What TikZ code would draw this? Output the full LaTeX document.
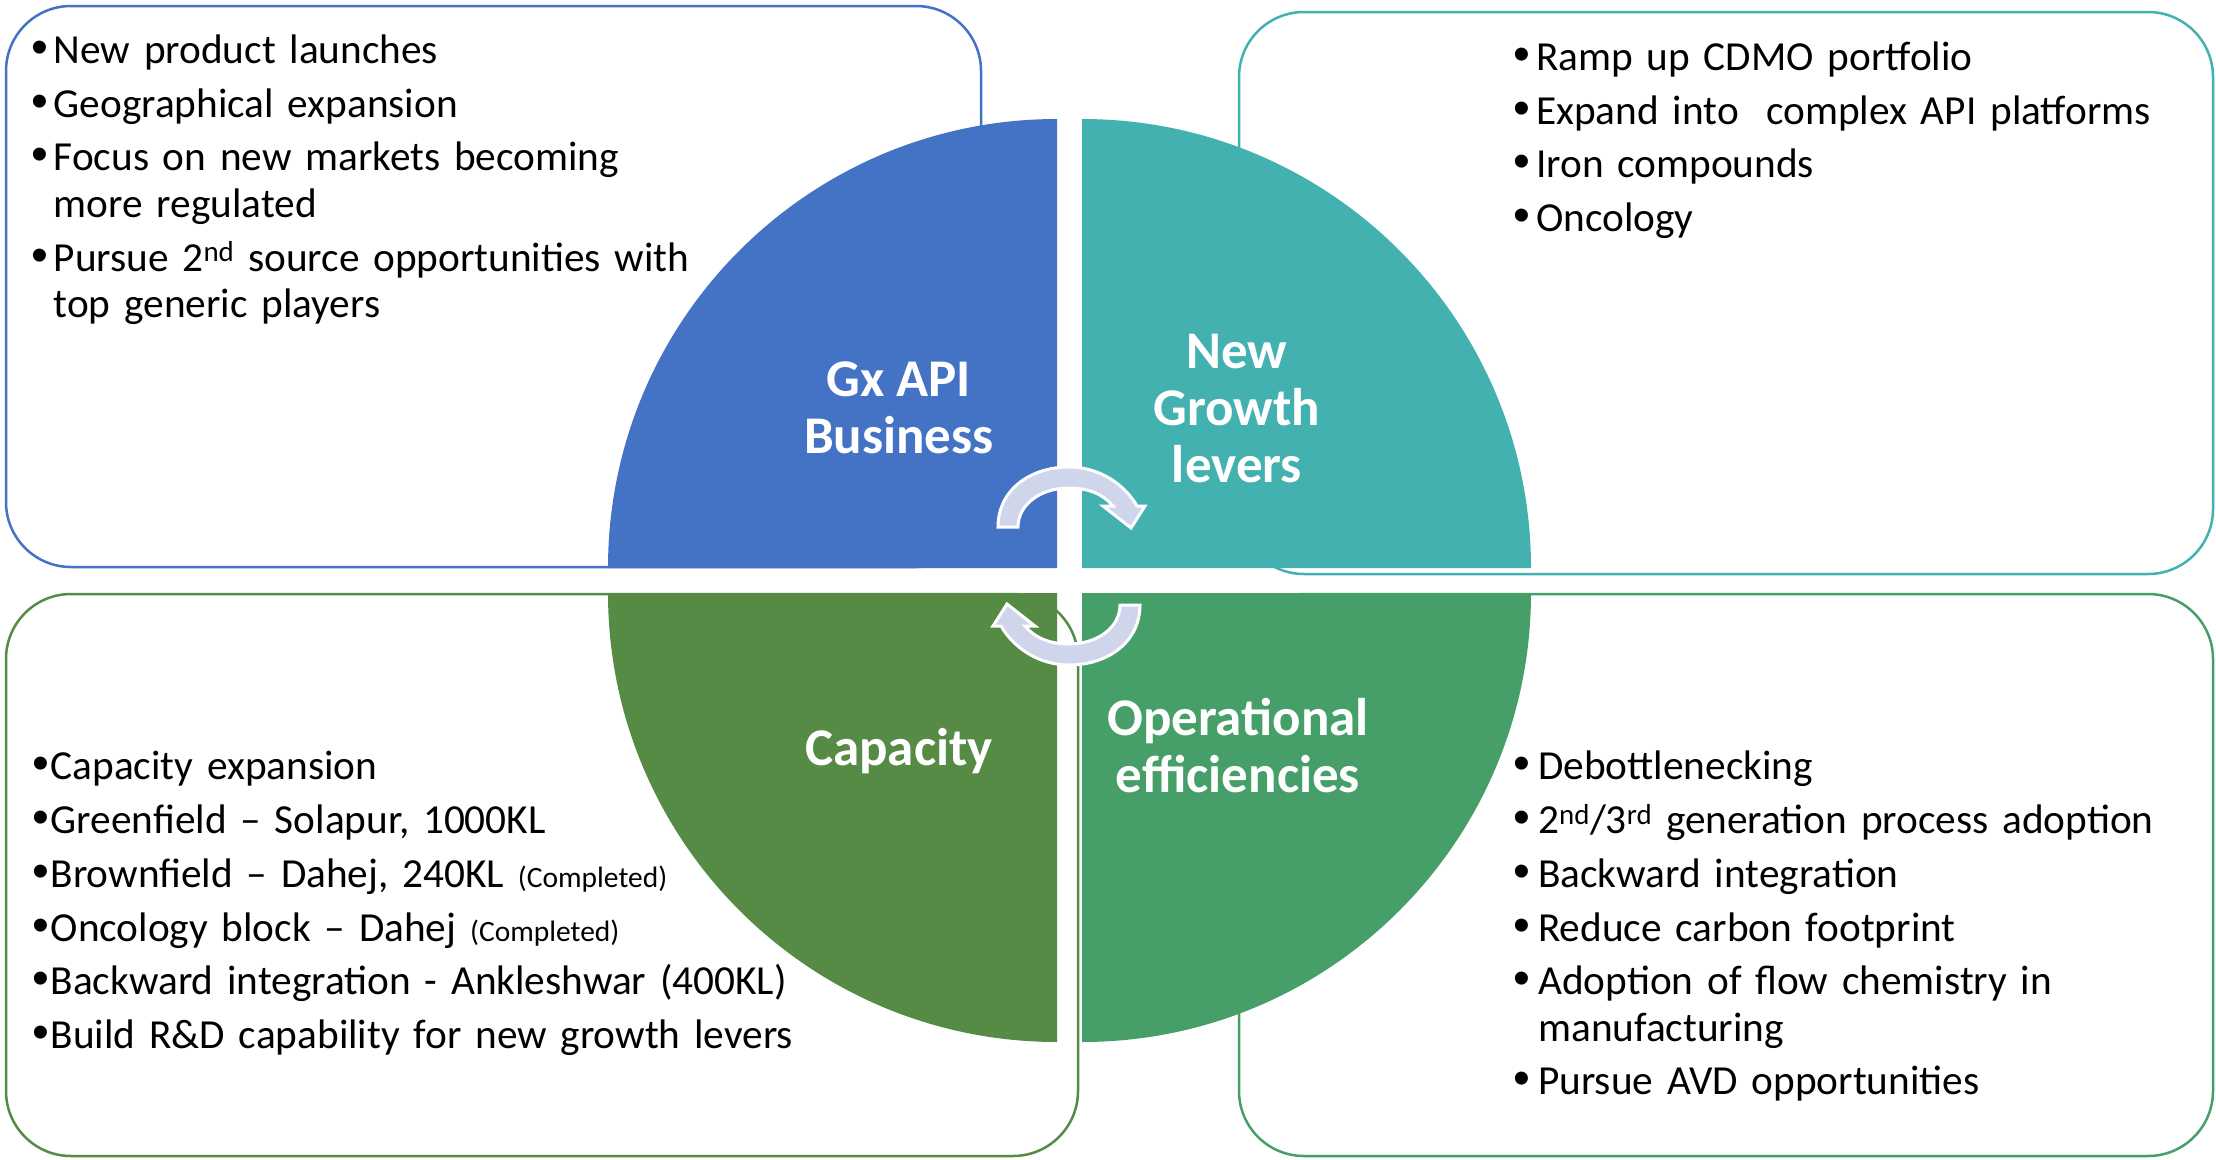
\documentclass[tikz,border=0pt]{standalone}
\usepackage{fontspec}
\setmainfont{Carlito}
\newfontfamily\bulletfont{Liberation Sans}
\definecolor{qblue}{HTML}{4472C4}
\definecolor{qteal}{HTML}{43B1B0}
\definecolor{qgreenA}{HTML}{558B45}
\definecolor{qgreenB}{HTML}{469F68}
\definecolor{arrowfill}{HTML}{CFD5EA}
\newlength{\bind}
\newcommand{\bitem}[1]{\par\hangindent=\bind\hangafter=1\noindent\makebox[\bind][l]{\bulletfont\fontsize{48}{46.5}\selectfont\char"2022}\strut#1}
\newcommand{\bodyfont}{\fontsize{41.3}{46.5}\selectfont\setlength{\parskip}{7.2pt}}
\newcommand{\smallnote}[1]{{\fontsize{29.5}{30}\selectfont #1}}
\newcommand{\labelfont}{\fontsize{53}{57}\selectfont\bfseries}
\tikzset{
  box/.style={draw=#1, line width=2.5pt, rounded corners=65pt},
  quad/.style={fill=#1, draw=none},
  textblock/.style={anchor=north west, inner sep=0pt, text width=950pt, align=left, font=\bodyfont},
  qlabel/.style={anchor=north, inner sep=0pt, align=center, text=white, font=\labelfont},
  cyclearrow/.style={fill=arrowfill, draw=white, line width=3pt, line join=miter}
}
\begin{document}
\begin{tikzpicture}[x=1pt,y=-1pt]
\useasboundingbox (0,0) rectangle (2216,1159);
\fill[white] (0,0) rectangle (2216,1159);
% outlined boxes
\draw[box=qblue]   (6,6)     rectangle (981,567);
\draw[box=qteal]   (1239,12) rectangle (2213,574);
\draw[box=qgreenA] (6,594)   rectangle (1078,1156);
\draw[box=qgreenB] (1239,594) rectangle (2213,1156);
% quadrants
\fill[quad=qblue]   (1057,568) -- ++(-449,0) arc[start angle=180, end angle=270, radius=449] -- cycle;
\fill[quad=qteal]   (1082,568) -- ++(0,-449) arc[start angle=270, end angle=360, radius=449] -- cycle;
\fill[quad=qgreenA] (1057,593) -- ++(-449,0) arc[start angle=180, end angle=90, radius=449] -- cycle;
\fill[quad=qgreenB] (1082,593) -- ++(449,0) arc[start angle=0, end angle=90, radius=449] -- cycle;
% quadrant labels
\node[qlabel] (lgx)  at (899,356)  {\strut Gx API\\\strut Business};
\node[qlabel] (lnew) at (1237,328) {\strut New\\\strut Growth\\\strut levers};
\node[qlabel] (lcap) at (899,725)  {\strut Capacity};
\node[qlabel] (lops) at (1238,695) {\strut Operational\\\strut efficiencies};
% cycle arrows
\path[cyclearrow] (998,527) .. controls (998,490) and (1030,467) .. (1069,467)
   .. controls (1100,467) and (1125,485) .. (1137,506) -- (1145,506) -- (1131,528) -- (1103,506) -- (1113,506)
   .. controls (1103,494) and (1088,488) .. (1069,488)
   .. controls (1040,488) and (1018,505) .. (1018,527) -- cycle;
\path[cyclearrow, rotate around={180:(1069,566)}] (998,527) .. controls (998,490) and (1030,467) .. (1069,467)
   .. controls (1100,467) and (1125,485) .. (1137,506) -- (1145,506) -- (1131,528) -- (1103,506) -- (1113,506)
   .. controls (1103,494) and (1088,488) .. (1069,488)
   .. controls (1040,488) and (1018,505) .. (1018,527) -- cycle;
% texts
\node[textblock] (ttl) at (31,9.5) {\setlength{\bind}{22.5pt}%
\bitem{New product launches}
\bitem{Geographical expansion}
\bitem{Focus on new markets becoming\newline\strut more regulated}
\bitem{Pursue 2\textsuperscript{nd} source opportunities with\newline\strut top generic players}\par};
\node[textblock, text width=680pt] (ttr) at (1513,16.5) {\setlength{\bind}{23pt}%
\bitem{Ramp up CDMO portfolio}
\bitem{Expand into\ \ complex API platforms}
\bitem{Iron compounds}
\bitem{Oncology}\par};
\node[textblock] (tbl) at (32,726) {\setlength{\bind}{18.5pt}%
\bitem{Capacity expansion}
\bitem{Greenfield -- Solapur, 1000KL}
\bitem{Brownfield -- Dahej, 240KL \smallnote{(Completed)}}
\bitem{Oncology block -- Dahej \smallnote{(Completed)}}
\bitem{Backward integration - Ankleshwar (400KL)}
\bitem{Build R\&D capability for new growth levers}\par};
\node[textblock, text width=680pt] (tbr) at (1513,726) {\setlength{\bind}{25pt}%
\bitem{Debottlenecking}
\bitem{2\textsuperscript{nd}/3\textsuperscript{rd} generation process adoption}
\bitem{Backward integration}
\bitem{Reduce carbon footprint}
\bitem{Adoption of flow chemistry in\newline\strut manufacturing}
\bitem{Pursue AVD opportunities}\par};
\end{tikzpicture}
\end{document}
